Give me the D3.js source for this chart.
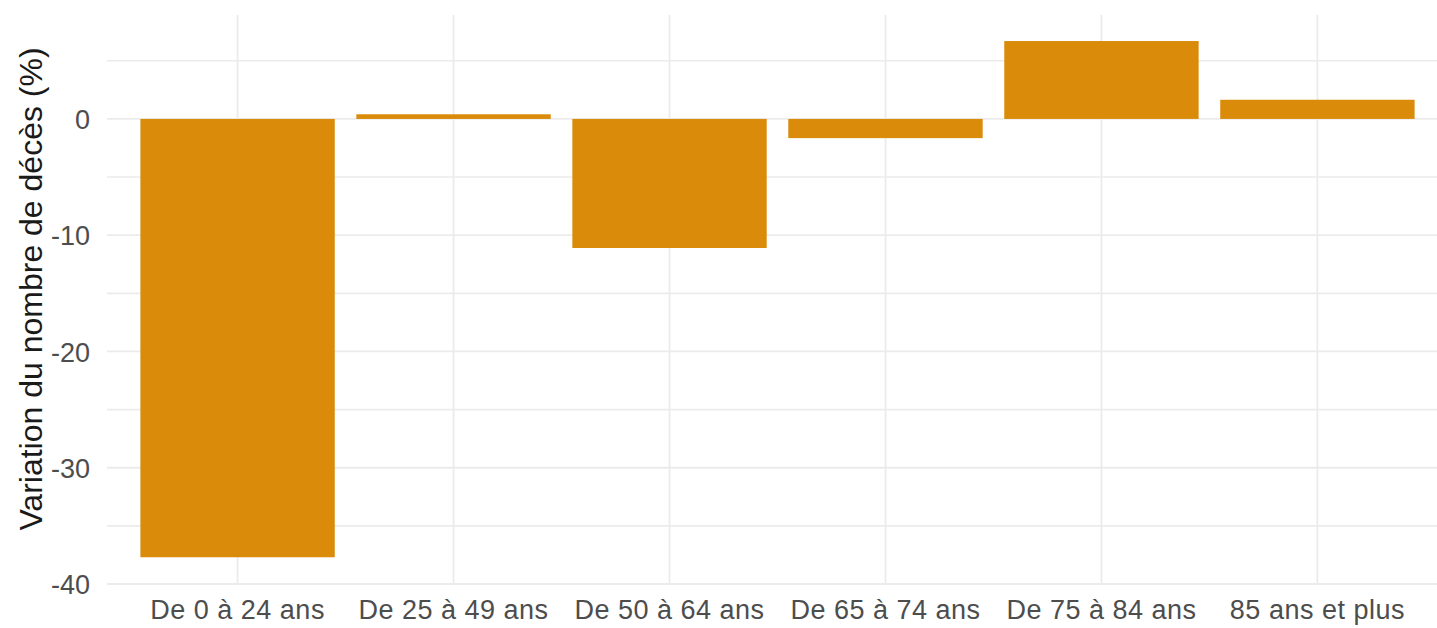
<!DOCTYPE html>
<html>
<head>
<meta charset="utf-8">
<script src="https://cdn.jsdelivr.net/npm/d3@7"></script>
<style>
  body { margin: 0; background: #fff; }
  text { font-family: "Liberation Sans", Arial, sans-serif; }
</style>
</head>
<body>
<div id="my_dataviz"></div>
<script>
// data
var ageGroups = ["De 0 à 24 ans", "De 25 à 49 ans", "De 50 à 64 ans", "De 65 à 74 ans", "De 75 à 84 ans", "85 ans et plus"];
var variation = [-37.7, 0.4, -11.1, -1.65, 6.7, 1.65];
var majorTicks = [-40, -30, -20, -10, 0];
var minorTicks = [-35, -25, -15, -5, 5];

var width = 1437, height = 628;
var panel = {left: 107, top: 15, bottom: 584};

var data = ageGroups.map(function(g, i) { return {group: g, value: variation[i]}; });

var svg = d3.select("#my_dataviz")
  .append("svg")
    .attr("width", width)
    .attr("height", height);

// scales (panel runs past the right edge, as in the picture)
var x = d3.scaleBand().domain(ageGroups).range([108, 1447]).paddingInner(0.1).paddingOuter(0.15);
var y = d3.scaleLinear().domain([-40, 8.94]).range([panel.bottom, panel.top]);

// grid
svg.append("g").selectAll("line.minor")
  .data(minorTicks).enter().append("line")
    .attr("x1", panel.left).attr("x2", width)
    .attr("y1", d => y(d)).attr("y2", d => y(d))
    .attr("stroke", "#ebebeb").attr("stroke-width", 1.6);

svg.append("g").selectAll("line.major")
  .data(majorTicks).enter().append("line")
    .attr("x1", panel.left).attr("x2", width)
    .attr("y1", d => y(d)).attr("y2", d => y(d))
    .attr("stroke", "#ebebeb").attr("stroke-width", 1.8);

svg.append("g").selectAll("line.vert")
  .data(ageGroups).enter().append("line")
    .attr("x1", d => x(d) + x.bandwidth() / 2).attr("x2", d => x(d) + x.bandwidth() / 2)
    .attr("y1", panel.top).attr("y2", panel.bottom)
    .attr("stroke", "#ebebeb").attr("stroke-width", 1.8);

// bars
svg.append("g").selectAll("rect")
  .data(data).enter().append("rect")
    .attr("x", d => x(d.group))
    .attr("width", x.bandwidth())
    .attr("y", d => y(Math.max(0, d.value)))
    .attr("height", d => Math.abs(y(d.value) - y(0)))
    .attr("fill", "#d98b09");

// axes
var yAxis = svg.append("g")
  .attr("transform", "translate(" + 93 + ",0)")
  .call(d3.axisLeft(y).tickValues(majorTicks).tickSize(0).tickPadding(3)
    .tickFormat(d => String(d)));
yAxis.select(".domain").remove();
yAxis.selectAll("text")
  .attr("font-size", 27).attr("fill", "#4d4d4d")
  .attr("font-family", "Liberation Sans, Arial, sans-serif")
  .attr("dy", "0.36em");

var xAxis = svg.append("g")
  .attr("transform", "translate(0," + 600 + ")")
  .call(d3.axisBottom(x).tickSize(0).tickPadding(0));
xAxis.select(".domain").remove();
xAxis.selectAll("text")
  .attr("font-size", 27).attr("fill", "#4d4d4d")
  .attr("letter-spacing", 0.5)
  .attr("font-family", "Liberation Sans, Arial, sans-serif")
  .attr("dy", "0.71em");

// y title
svg.append("text")
  .attr("transform", "translate(42," + 289 + ") rotate(-90)")
  .attr("text-anchor", "middle")
  .attr("font-size", 32)
  .attr("fill", "#1a1a1a")
  .text("Variation du nombre de décès (%)");
</script>
</body>
</html>
